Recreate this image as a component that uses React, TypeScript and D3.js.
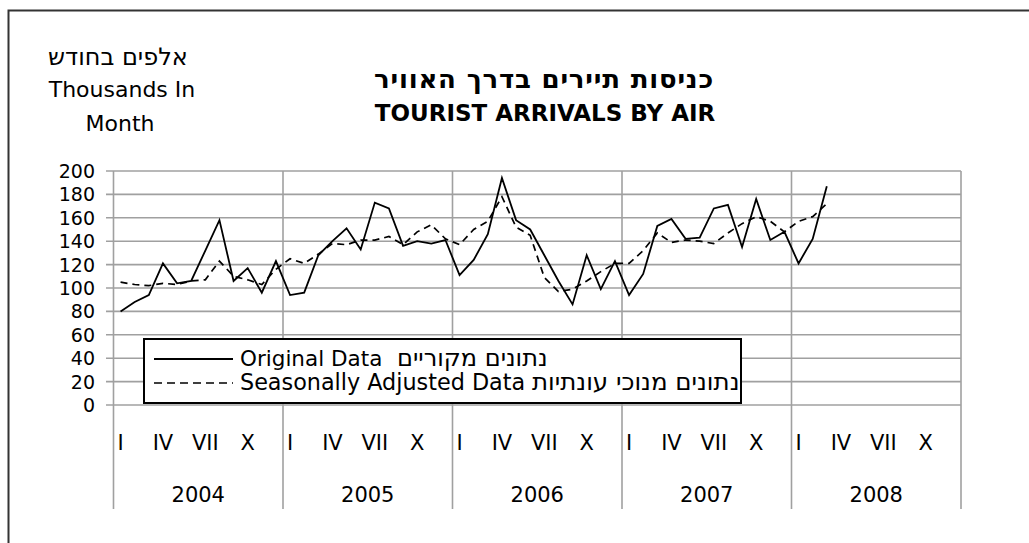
import React from "react";
import * as d3 from "d3";

// monthly series, Jan 2004 - Mar 2008 (thousands)
const years = [2004, 2005, 2006, 2007, 2008];
const quarterLabels = ["I", "IV", "VII", "X"];
const quarterMonths = [0, 3, 6, 9];

const original = [
  80, 88, 94, 121, 104, 106, 132, 158, 106, 117, 96, 123,
  94, 96, 128, 140, 151, 133, 173, 168, 136, 140, 138, 141,
  111, 124, 146, 194, 158, 150, 128, 106, 86, 128, 99, 123,
  94, 112, 153, 159, 142, 143, 168, 171, 135, 176, 141, 148,
  121, 142, 187,
];

const adjusted = [
  105, 103, 102, 104, 103, 106, 107, 123, 110, 107, 103, 116,
  125, 121, 129, 138, 137, 141, 141, 144, 137, 148, 154, 142,
  137, 150, 157, 178, 152, 145, 109, 97, 99, 106, 114, 121,
  121, 132, 147, 139, 141, 140, 138, 147, 155, 161, 157, 148,
  157, 161, 172,
];

const W = 1029;
const H = 543;
const font = "'DejaVu Sans', sans-serif";
const gridColor = "#a0a0a0";

export default function App() {
  const x = d3.scaleLinear().domain([0, years.length * 12]).range([113.5, 961]);
  const y = d3.scaleLinear().domain([0, 200]).range([405, 171]);
  const yTicks = y.ticks(10);

  const line = d3
    .line<number>()
    .x((_, i) => x(i + 0.5))
    .y((d) => y(d));

  const top = y(200);
  const bottom = 509;

  return (
    <svg
      width={W}
      height={H}
      style={{ position: "absolute", left: 0, top: 0, background: "#fff" }}
    >
      {/* outer frame */}
      <path d={`M8.5,${H} V10.5 H${W}`} fill="none" stroke="#333" strokeWidth={2} />

      {/* titles */}
      <g fontFamily={font} textAnchor="middle" fill="#000">
        <text x={544} y={88} fontSize={26} fontWeight="bold" letterSpacing={0.8}>
          כניסות תיירים בדרך האוויר
        </text>
        <text x={545} y={121} fontSize={23} fontWeight="bold">
          TOURIST ARRIVALS BY AIR
        </text>
        <text x={118} y={65} fontSize={24}>אלפים בחודש</text>
        <text x={122} y={97} fontSize={22}>Thousands In</text>
        <text x={120} y={131} fontSize={22}>Month</text>
      </g>

      {/* horizontal grid + y labels */}
      <g>
        {yTicks.map((t) => (
          <g key={t}>
            <line x1={106} x2={961} y1={y(t)} y2={y(t)} stroke={gridColor} strokeWidth={1.6} />
            <text
              x={95}
              y={y(t) + 7}
              fontFamily={font}
              fontSize={19}
              textAnchor="end"
            >
              {t}
            </text>
          </g>
        ))}
      </g>

      {/* year separators */}
      {d3.range(years.length + 1).map((k) => (
        <line
          key={k}
          x1={x(k * 12)}
          x2={x(k * 12)}
          y1={top}
          y2={bottom}
          stroke={gridColor}
          strokeWidth={1.6}
        />
      ))}

      {/* x labels */}
      <g fontFamily={font} textAnchor="middle">
        {years.map((yr, yi) => (
          <g key={yr}>
            {quarterLabels.map((q, qi) => (
              <text key={q} x={x(yi * 12 + quarterMonths[qi] + 0.5)} y={450} fontSize={21}>
                {q}
              </text>
            ))}
            <text x={x(yi * 12 + 6)} y={502} fontSize={21}>
              {yr}
            </text>
          </g>
        ))}
      </g>

      {/* series */}
      <path d={line(adjusted) || ""} fill="none" stroke="#000" strokeWidth={1.7} strokeDasharray="7,5" />
      <path d={line(original) || ""} fill="none" stroke="#000" strokeWidth={1.8} />

      {/* legend */}
      <g>
        <rect x={144} y={339} width={597} height={64} fill="#fff" stroke="#000" strokeWidth={2} />
        <line x1={154} x2={233} y1={359} y2={359} stroke="#000" strokeWidth={1.8} />
        <line x1={154} x2={233} y1={383} y2={383} stroke="#000" strokeWidth={1.7} strokeDasharray="8,5" />
        <g fontFamily={font} style={{ whiteSpace: "pre" }}>
          <text x={240} y={366} fontSize={21.5}>
            Original Data
            <tspan x={397} fontSize={24}>נתונים מקוריים</tspan>
          </text>
          <text x={240} y={390} fontSize={22.3}>
            Seasonally Adjusted Data
            <tspan x={532} fontSize={24.5}>נתונים מנוכי עונתיות</tspan>
          </text>
        </g>
      </g>
    </svg>
  );
}
